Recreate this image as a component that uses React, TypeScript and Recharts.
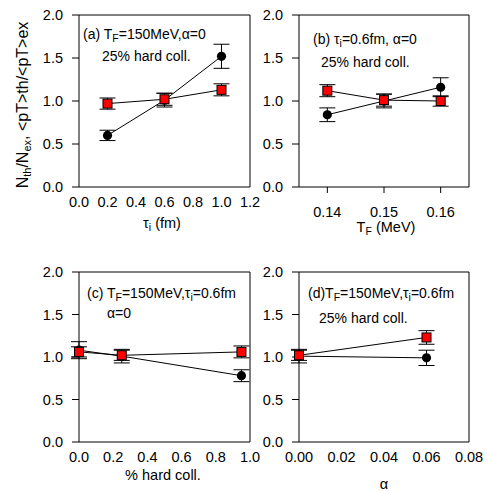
import { ScatterChart, Scatter, XAxis, YAxis, ErrorBar } from "recharts";

const FONT = "'Liberation Sans', Arial, Helvetica, sans-serif";

// (a) tau_i scan
const tauI = [0.2, 0.6, 1.0];
const tauINth = [0.6, 1.01, 1.52];
const tauINthErr = [0.06, 0.08, 0.14];
const tauIPt = [0.97, 1.02, 1.13];
const tauIPtErr = [0.065, 0.07, 0.07];
const tauITicks = [0, 0.2, 0.4, 0.6, 0.8, 1.0, 1.2];

// (b) T_F scan
const tF = [0.14, 0.15, 0.16];
const tFNth = [0.84, 1.0, 1.16];
const tFNthErr = [0.08, 0.08, 0.11];
const tFPt = [1.12, 1.01, 1.0];
const tFPtErr = [0.07, 0.07, 0.06];
const tFTicks = [0.14, 0.15, 0.16];

// (c) % hard collisions
const hard = [0, 0.25, 0.95];
const hardNth = [1.08, 1.01, 0.78];
const hardNthErr = [0.1, 0.08, 0.07];
const hardPt = [1.06, 1.02, 1.06];
const hardPtErr = [0.06, 0.06, 0.07];
const hardTicks = [0, 0.2, 0.4, 0.6, 0.8, 1.0];

// (d) alpha
const alpha = [0, 0.06];
const alphaNth = [1.01, 0.99];
const alphaNthErr = [0.08, 0.09];
const alphaPt = [1.02, 1.23];
const alphaPtErr = [0.06, 0.08];
const alphaTicks = [0, 0.02, 0.04, 0.06, 0.08];

const yTicks = [0, 0.5, 1.0, 1.5, 2.0];

const ML = 79;
const MT = 15;
const MR = 20;
const MB = 50;

function minorTicks(domain: [number, number], step: number) {
  const out: number[] = [];
  const start = Math.ceil(domain[0] / step - 1e-9);
  const end = Math.floor(domain[1] / step + 1e-9);
  for (let k = start; k <= end; k++) out.push(+(k * step).toFixed(6));
  return out;
}

const Circle = (p: any) => <circle cx={p.cx} cy={p.cy} r={4.6} fill="#000" />;
const Square = (p: any) => (
  <rect x={p.cx - 4.5} y={p.cy - 4.5} width={9} height={9} fill="#ff0000" stroke="#000" strokeWidth={1} />
);

const blank = () => "";
const black = { stroke: "#000" };

interface PanelProps {
  left: number;
  top: number;
  width: number;
  height: number;
  domain: [number, number];
  majors: number[];
  step: number;
  digits: number;
  cross?: boolean;
  xs: number[];
  nth: number[];
  nthErr: number[];
  pt: number[];
  ptErr: number[];
}

function Panel(props: PanelProps) {
  const { left, top, width, height, domain, majors, step, digits, cross } = props;
  const minors = minorTicks(domain, step);
  const nthData = props.xs.map((x, i) => ({ x, y: props.nth[i], e: props.nthErr[i] }));
  const ptData = props.xs.map((x, i) => ({ x, y: props.pt[i], e: props.ptErr[i] }));

  // inner tick marks, drawn by mirrored axes that take no room
  const inner = (id: string, side: "top" | "bottom", ticks: number[], size: number, line: boolean) => (
    <XAxis
      key={id}
      xAxisId={id}
      orientation={side}
      mirror
      type="number"
      dataKey="x"
      domain={domain}
      ticks={ticks}
      interval={0}
      height={1}
      tickSize={size}
      tickMargin={0}
      tickLine={black}
      axisLine={line ? black : false}
      tickFormatter={blank}
    />
  );

  return (
    <div style={{ position: "absolute", left: left - ML, top: top - MT }}>
      <ScatterChart
        width={ML + width + MR}
        height={MT + height + MB}
        margin={{ top: MT, right: MR, bottom: 0, left: 0 }}
      >
        <XAxis
          xAxisId="b"
          type="number"
          dataKey="x"
          domain={domain}
          ticks={majors}
          interval={0}
          height={MB}
          tickSize={cross ? 6 : 0}
          tickMargin={cross ? 14 : 10}
          tickLine={cross ? black : false}
          axisLine={black}
          tick={{ fill: "#000", fontSize: 14.5, fontFamily: FONT }}
          tickFormatter={(v: number) => v.toFixed(digits)}
        />
        {inner("bmaj", "bottom", majors, 6, false)}
        {inner("bmin", "bottom", minors, 3, false)}
        {inner("tmaj", "top", majors, 5, true)}
        {inner("tmin", "top", minors, 3, false)}
        <YAxis
          yAxisId="l"
          type="number"
          dataKey="y"
          domain={[0, 2]}
          ticks={yTicks}
          interval={0}
          width={ML}
          tickSize={7}
          tickMargin={9}
          tickLine={black}
          axisLine={black}
          tick={{ fill: "#000", fontSize: 14.5, fontFamily: FONT }}
          tickFormatter={(v: number) => v.toFixed(1)}
        />
        <YAxis
          yAxisId="r"
          orientation="right"
          mirror
          type="number"
          dataKey="y"
          domain={[0, 2]}
          width={1}
          tick={false}
          tickLine={false}
          axisLine={black}
        />
        <Scatter
          xAxisId="b"
          yAxisId="l"
          data={nthData}
          line={{ stroke: "#000", strokeWidth: 1 }}
          shape={Circle}
          isAnimationActive={false}
        >
          <ErrorBar dataKey="e" direction="y" width={8} stroke="#000" strokeWidth={1} isAnimationActive={false} />
        </Scatter>
        <Scatter
          xAxisId="b"
          yAxisId="l"
          data={ptData}
          line={{ stroke: "#000", strokeWidth: 1 }}
          shape={Square}
          isAnimationActive={false}
        >
          <ErrorBar dataKey="e" direction="y" width={8} stroke="#000" strokeWidth={1} isAnimationActive={false} />
        </Scatter>
      </ScatterChart>
    </div>
  );
}

export default function App() {
  const sub = (s: string) => (
    <tspan fontSize={10.5} dy={3}>
      {s}
    </tspan>
  );
  return (
    <div style={{ position: "absolute", left: 0, top: 0, width: 487, height: 491, background: "#fff", fontFamily: FONT }}>
      <Panel
        left={79} top={15} width={171} height={172}
        domain={[0, 1.2]} majors={tauITicks} step={0.04} digits={1}
        xs={tauI} nth={tauINth} nthErr={tauINthErr} pt={tauIPt} ptErr={tauIPtErr}
      />
      <Panel
        left={299} top={15} width={170} height={172}
        domain={[0.135, 0.165]} majors={tFTicks} step={0.002} digits={2} cross
        xs={tF} nth={tFNth} nthErr={tFNthErr} pt={tFPt} ptErr={tFPtErr}
      />
      <Panel
        left={79} top={272} width={171} height={170}
        domain={[0, 1.0]} majors={hardTicks} step={0.04} digits={1}
        xs={hard} nth={hardNth} nthErr={hardNthErr} pt={hardPt} ptErr={hardPtErr}
      />
      <Panel
        left={299} top={272} width={170} height={170}
        domain={[0, 0.08]} majors={alphaTicks} step={0.004} digits={2}
        xs={alpha} nth={alphaNth} nthErr={alphaNthErr} pt={alphaPt} ptErr={alphaPtErr}
      />
      <svg
        width={487}
        height={491}
        style={{ position: "absolute", left: 0, top: 0, pointerEvents: "none" }}
        fontFamily={FONT}
        fill="#000"
      >
        {/* y-axis title */}
        <text transform="rotate(-90)" x={-105} y={28} textAnchor="middle" fontSize={16}>
          N<tspan fontSize={11} dy={3}>th</tspan>
          <tspan dy={-3}>/N</tspan>
          <tspan fontSize={11} dy={3}>ex</tspan>
          <tspan dy={-3}>, &lt;pT&gt;th/&lt;pT&gt;ex</tspan>
        </text>

        {/* panel notes */}
        <text x={83} y={39} fontSize={14}>
          (a) T{sub("F")}
          <tspan dy={-3}>=150MeV,α=0</tspan>
        </text>
        <text x={102} y={61} fontSize={14}>25% hard coll.</text>

        <text x={313} y={44} fontSize={14}>
          (b) τ{sub("i")}
          <tspan dy={-3}>=0.6fm, α=0</tspan>
        </text>
        <text x={321} y={67} fontSize={14}>25% hard coll.</text>

        <text x={87} y={298} fontSize={14}>
          (c) T{sub("F")}
          <tspan dy={-3}>=150MeV,τ</tspan>
          {sub("i")}
          <tspan dy={-3}>=0.6fm</tspan>
        </text>
        <text x={107} y={318} fontSize={14}>α=0</text>

        <text x={308} y={298} fontSize={14}>
          (d)T{sub("F")}
          <tspan dy={-3}>=150MeV,τ</tspan>
          {sub("i")}
          <tspan dy={-3}>=0.6fm</tspan>
        </text>
        <text x={319} y={323} fontSize={14}>25% hard coll.</text>

        {/* x-axis titles */}
        <text x={162} y={228} textAnchor="middle" fontSize={14.5}>
          τ{sub("i")}
          <tspan dy={-3}> (fm)</tspan>
        </text>
        <text x={386} y={232} textAnchor="middle" fontSize={14.5}>
          T{sub("F")}
          <tspan dy={-3}> (MeV)</tspan>
        </text>
        <text x={163} y={480} textAnchor="middle" fontSize={14.5}>% hard coll.</text>
        <text x={384} y={489} textAnchor="middle" fontSize={14.5}>α</text>
      </svg>
    </div>
  );
}
